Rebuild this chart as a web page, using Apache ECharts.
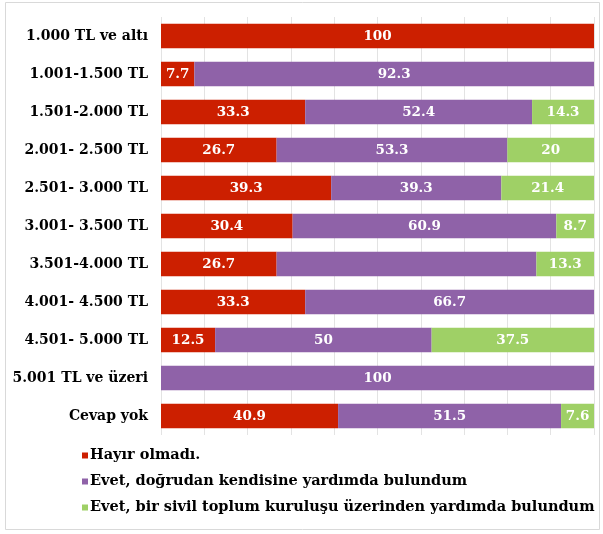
<!DOCTYPE html>
<html>
<head>
<meta charset="utf-8">
<script src="https://cdn.jsdelivr.net/npm/echarts@6/dist/echarts.min.js"></script>
<style>
  html, body { margin: 0; padding: 0; background: #fff; }
  #chart { width: 603px; height: 534px; }
</style>
</head>
<body>
<div id="chart"></div>
<script>
  // kategoriler (yukarıdan aşağıya)
  var categories = ['1.000 TL ve altı', '1.001-1.500 TL', '1.501-2.000 TL', '2.001- 2.500 TL',
    '2.501- 3.000 TL', '3.001- 3.500 TL', '3.501-4.000 TL', '4.001- 4.500 TL',
    '4.501- 5.000 TL', '5.001 TL ve üzeri', 'Cevap yok'];
  var seriesNames = ['Hayır olmadı.', 'Evet, doğrudan kendisine yardımda bulundum',
    'Evet, bir sivil toplum kuruluşu üzerinden yardımda bulundum'];
  var hayir = [100, 7.7, 33.3, 26.7, 39.3, 30.4, 26.7, 33.3, 12.5, 0, 40.9];
  var dogrudan = [0, 92.3, 52.4, 53.3, 39.3, 60.9, 60, 66.7, 50, 100, 51.5];
  var stk = [0, 0, 14.3, 20, 21.4, 8.7, 13.3, 0, 37.5, 0, 7.6];
  // orijinalde 3.501-4.000 satırındaki mor etiket yazılmamış
  var gizliEtiket = [[1, 6]];

  var font = '"DejaVu Serif", serif';
  var colors = ['#CC1F00', '#8F62A8', '#9FD066'];

  function mk(idx, data) {
    return {
      name: seriesNames[idx],
      type: 'bar',
      stack: 'toplam',
      barCategoryGap: '36%',
      data: data.map(function (v) { return v === 0 ? null : v; }),
      itemStyle: { color: colors[idx] },
      label: {
        show: true,
        position: 'inside',
        color: '#fff',
        fontFamily: font,
        fontWeight: 'bold',
        fontSize: 13.5,
        formatter: function (p) {
          if (p.value == null) return '';
          for (var i = 0; i < gizliEtiket.length; i++) {
            if (gizliEtiket[i][0] === idx && gizliEtiket[i][1] === p.dataIndex) return '';
          }
          return p.value;
        }
      }
    };
  }

  var chart = echarts.init(document.getElementById('chart'));
  chart.setOption({
    animation: false,
    backgroundColor: '#fff',
    graphic: [{
      type: 'rect',
      shape: { x: 5.5, y: 2.5, width: 594, height: 527 },
      style: { fill: 'none', stroke: '#d9d9d9', lineWidth: 1 },
      silent: true
    }],
    legend: {
      orient: 'vertical',
      left: 77,
      top: 443,
      itemWidth: 6,
      itemHeight: 6,
      itemGap: 11,
      icon: 'rect',
      textStyle: { fontFamily: font, fontWeight: 'bold', fontSize: 14.5, color: '#000', padding: [0, 0, 0, -3] },
      data: seriesNames
    },
    grid: { left: 161, right: 9, top: 17, bottom: 99, containLabel: false },
    xAxis: {
      type: 'value',
      min: 0,
      max: 100,
      interval: 10,
      axisLabel: { show: false },
      axisLine: { show: false },
      axisTick: { show: false },
      splitLine: { lineStyle: { color: '#e3e3e3' } }
    },
    yAxis: {
      type: 'category',
      inverse: true,
      data: categories,
      axisLine: { show: false },
      axisTick: { show: false },
      axisLabel: {
        margin: 13,
        color: '#000',
        fontFamily: font,
        fontWeight: 'bold',
        fontSize: 14
      }
    },
    series: [mk(0, hayir), mk(1, dogrudan), mk(2, stk)]
  });
</script>
</body>
</html>
